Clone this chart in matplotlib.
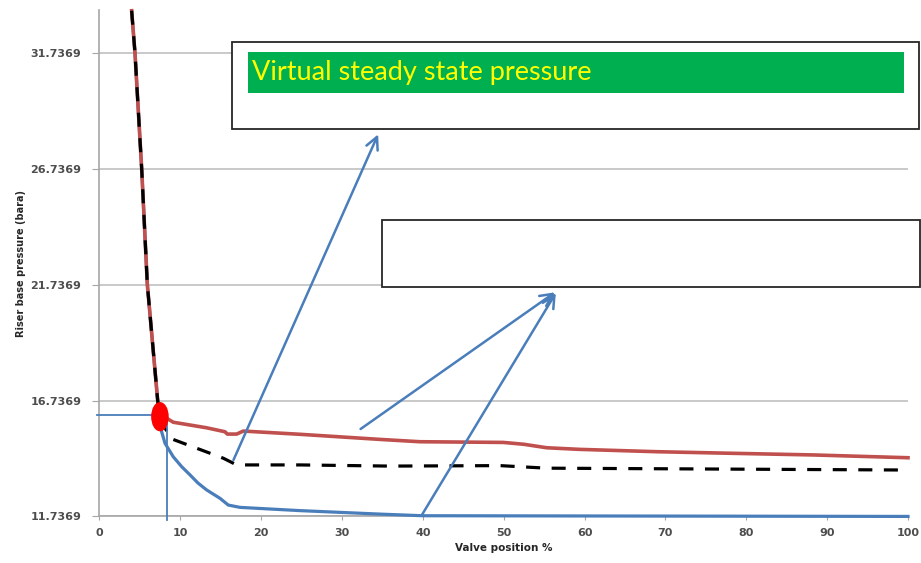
import matplotlib
matplotlib.use("Agg")
import matplotlib.pyplot as plt
from matplotlib.patches import Ellipse, Rectangle

# shared steep branch (all three curves coincide here)
steep_x = [4.0, 4.41, 5.24, 5.94, 7.22, 7.5]
steep_y = [33.54, 31.74, 26.74, 21.74, 16.74, 16.04]

# upper (red) curve after the split
red_x = [8.33, 9.15, 13.28, 15.54, 15.83, 16.99, 17.81, 24.82, 34.71, 39.64,
         49.96, 52.5, 55.32, 59.44, 68.93, 78.4, 88.3, 100]
red_y = [15.97, 15.80, 15.56, 15.39, 15.29, 15.29, 15.42, 15.28, 15.06, 14.96,
         14.93, 14.85, 14.70, 14.63, 14.53, 14.46, 14.39, 14.27]

# virtual steady state (black dashed)
mid_x = [8.74, 15.33, 16.99, 24.82, 35.9, 49.55, 55.32, 100]
mid_y = [15.11, 14.25, 13.96, 13.96, 13.91, 13.93, 13.82, 13.74]

# lower (blue) curve
low_x = [7.7, 8.13, 9.15, 10.2, 11.22, 12.2, 13.28, 14.93, 15.95, 17.4, 24.82,
         34.7, 40, 60, 80, 100]
low_y = [15.40, 14.89, 14.31, 13.88, 13.53, 13.18, 12.88, 12.52, 12.23, 12.13,
         11.99, 11.84, 11.77, 11.76, 11.75, 11.74]

# critical point
crit_x, crit_y = 7.5, 16.04
crit_line_x, crit_line_y = 8.33, 16.11

y_ticks = [11.7369, 16.7369, 21.7369, 26.7369, 31.7369]
x_ticks = list(range(0, 101, 10))

box_label = "Virtual steady state pressure"

blue = "#4A7EBB"
red = "#C0504D"
grey = "#A6A6A6"

fig = plt.figure(figsize=(9.21, 5.63), dpi=100)
ax = fig.add_axes([0.1078, 0.0826, 0.8781, 0.8996])

ax.set_xlim(0, 100)
ax.set_ylim(11.7369, 33.57)

ax.set_yticks(y_ticks)
ax.set_yticklabels([f"{v:.4f}" for v in y_ticks])
ax.set_xticks(x_ticks)
ax.grid(axis="y", color="#C0C0C0", linewidth=1.2)
ax.set_axisbelow(True)
for side in ("top", "right"):
    ax.spines[side].set_visible(False)
for side in ("left", "bottom"):
    ax.spines[side].set_color(grey)
    ax.spines[side].set_linewidth(1.2)
ax.tick_params(axis="y", length=5, color=grey, labelsize=8, labelcolor="#4d4d4d", pad=8)
ax.tick_params(axis="x", length=3, color=grey, labelsize=8, labelcolor="#4d4d4d", pad=5)
for lab in ax.get_xticklabels() + ax.get_yticklabels():
    lab.set_fontweight("bold")

ax.set_xlabel("Valve position %", fontsize=7.5, fontweight="bold", color="#262626", labelpad=4)
ax.set_ylabel("Riser base pressure (bara)", fontsize=7, fontweight="bold", color="#262626", labelpad=3)

# curves
ax.plot(steep_x + low_x, steep_y + low_y, color=blue, linewidth=2.3, zorder=3, clip_on=False)
ax.plot(steep_x + red_x, steep_y + red_y, color=red, linewidth=2.6, zorder=4, clip_on=False)
ax.plot(steep_x + mid_x, steep_y + mid_y, color="black", linewidth=2.3,
        dashes=(4.4, 3.6), zorder=5, clip_on=False)

# guide lines to the critical point
ax.plot([-0.3, crit_x], [crit_line_y, crit_line_y], color=blue, linewidth=1.3, zorder=6, clip_on=False)
ax.plot([crit_line_x, crit_line_x], [crit_line_y, 11.58], color=blue, linewidth=1.3, zorder=6, clip_on=False)
ax.add_patch(Ellipse((crit_x, crit_y), 2.0, 1.2, color="#FF0000", zorder=7))

# annotation boxes
ax.add_patch(Rectangle((16.45, 28.44), 84.9, 3.73, facecolor="white", edgecolor="#262626",
                       linewidth=1.3, zorder=8, clip_on=False))
ax.add_patch(Rectangle((18.36, 29.98), 81.1, 1.77, facecolor="#00B050", edgecolor="none",
                       zorder=9, clip_on=False))
ax.text(18.9, 30.86, box_label, color="#FFFF00", fontsize=19.5, family="Lato",
        va="center", ha="left", zorder=10)
ax.add_patch(Rectangle((34.92, 21.62), 66.6, 2.9, facecolor="white", edgecolor="#262626",
                       linewidth=1.3, zorder=8, clip_on=False))

# arrows
arrow_style = dict(arrowstyle="->", color=blue, linewidth=1.8, mutation_scale=22)
ax.annotate("", xy=(34.62, 28.32), xytext=(16.45, 14.06), arrowprops=arrow_style,
            annotation_clip=False, zorder=9)
ax.annotate("", xy=(56.63, 21.47), xytext=(32.03, 15.44), arrowprops=arrow_style,
            annotation_clip=False, zorder=9)
ax.annotate("", xy=(56.63, 21.47), xytext=(39.66, 11.67), arrowprops=arrow_style,
            annotation_clip=False, zorder=9)

fig.savefig("out.png", dpi=100)
